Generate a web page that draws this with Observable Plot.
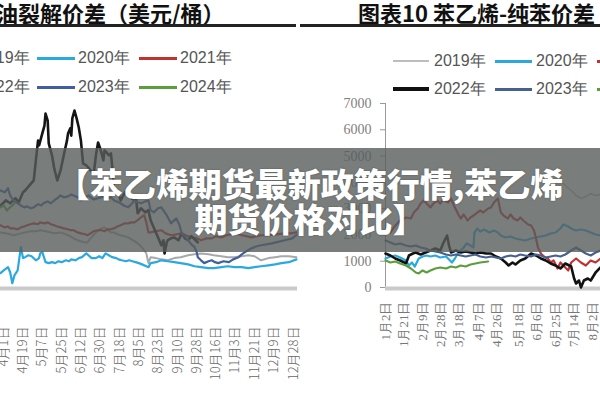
<!DOCTYPE html>
<html><head><meta charset="utf-8">
<script src="https://cdn.jsdelivr.net/npm/d3@7"></script>
<script src="https://cdn.jsdelivr.net/npm/@observablehq/plot@0.6"></script>
<style>
html,body{margin:0;padding:0;background:#fff;}
#root{position:relative;width:600px;height:400px;overflow:hidden;background:#fff;font-family:"Liberation Sans",Arial,sans-serif;}
.title{position:absolute;top:0px;font-family:"Noto Sans CJK SC";font-weight:700;font-size:22px;color:#111;white-space:nowrap;line-height:25px;}
.rule{position:absolute;top:24px;height:3px;background:#222;}
.lg{position:absolute;font-size:16px;color:#555;white-space:nowrap;line-height:18px;}
.sw{position:absolute;height:3px;}
.chart{position:absolute;top:0;}
#banner{position:absolute;left:0;top:148px;width:600px;height:104px;background:rgba(88,94,92,0.8);}
.bt{position:absolute;left:0;width:620px;text-align:center;color:#fff;font-family:"Noto Sans CJK SC";font-weight:900;font-size:33px;line-height:36px;white-space:nowrap;text-shadow:0 0 2px rgba(0,0,0,0.35);}
</style></head>
<body>
<div id="root">
  <div id="leftChart" class="chart" style="left:0"></div>
  <div id="rightChart" class="chart" style="left:300px"></div>

  <div class="title" style="left:-4px">油裂解价差（美元/桶）</div>
  <div class="title" style="left:358px">图表10&nbsp;苯乙烯-纯苯价差</div>
  <div class="rule" style="left:0;width:296px"></div>
  <div class="rule" style="left:300px;width:300px"></div>

  <div id="legends"></div>

  <div id="banner"></div>
  <div class="bt" style="top:165px">【苯乙烯期货最新政策行情,苯乙烯</div>
  <div class="bt" style="top:200px">期货价格对比】</div>
</div>
<script>
// ---------- Left chart: crack spread (USD/bbl); x = day of year ----------
const leftTickDays = [91,109,127,145,163,181,199,217,235,253,271,289,307,325,343,362];
const leftTickLabels = ["4月1日","4月19日","5月7日","5月25日","6月12日","6月30日","7月18日","8月5日","8月23日","9月10日","9月28日","10月16日","11月3日","11月21日","12月9日","12月28日"];
const leftYears = ["2019年","2020年","2021年","2022年","2023年","2024年"];
const leftColors = ["#a8a8a8","#2aa8e0","#c0312f","#151515","#3f5fa0","#5c9e3c"];

const left2019 = [[88,17.9],[93,17.6],[97,17.3],[100,17.0],[104,17.3],[107,17.6],[111,17.9],[116,18.3],[121,18.3],[125,18.6],[130,18.3],[135,17.9],[139,17.6],[144,17.9],[149,17.3],[151,17.0],[153,16.7],[156,16.0],[160,15.4],[163,15.1],[167,14.7],[169,14.7],[172,16.0],[177,17.9],[182,19.2],[185,19.5],[188,18.6],[191,17.9],[194,17.9],[197,17.3],[200,17.0],[204,16.7],[207,16.3],[210,15.7],[213,15.1],[216,14.4],[219,13.5],[222,12.2],[224,11.2],[226,8.1],[228,10.0],[233,9.7],[238,9.3],[244,9.0],[250,9.7],[256,10.0],[263,10.6],[269,10.9],[275,11.2],[282,10.9],[287,10.6],[294,10.3],[300,10.0],[306,10.0],[313,10.3],[319,10.6],[325,10.3],[331,9.0],[338,9.7],[344,10.0],[350,10.3],[357,10.3],[364,10.0]];
const left2020 = [[88,4.9],[91,5.8],[95,6.8],[97,5.2],[99,1.7],[101,4.2],[104,5.8],[107,13.2],[109,9.7],[111,10.0],[114,10.6],[117,10.3],[121,9.0],[124,9.7],[125,11.2],[127,11.6],[130,8.4],[133,8.1],[136,8.4],[139,8.1],[142,8.7],[145,8.4],[149,9.0],[152,8.7],[154,9.3],[158,9.0],[161,9.7],[164,10.0],[168,11.2],[170,10.6],[173,9.7],[177,9.7],[180,10.3],[183,9.7],[186,11.2],[189,10.6],[192,10.0],[196,9.7],[198,9.3],[201,9.0],[205,8.7],[208,9.0],[211,8.7],[214,8.4],[217,8.1],[220,7.7],[224,7.1],[226,6.8],[228,8.1],[233,8.4],[238,9.0],[244,8.7],[250,8.4],[256,8.1],[263,7.7],[269,7.1],[275,6.8],[282,6.5],[287,6.5],[294,6.8],[300,7.1],[306,6.8],[313,6.8],[319,6.5],[325,6.8],[331,7.1],[338,7.4],[344,7.7],[350,8.1],[357,8.4],[364,9.3]];
const left2021 = [[88,20.2],[92,19.5],[95,19.8],[97,19.2],[100,19.2],[104,18.9],[107,19.5],[110,19.8],[113,20.2],[116,20.5],[119,20.8],[123,20.5],[125,21.1],[129,20.8],[132,21.1],[135,20.5],[138,20.2],[141,19.8],[144,19.5],[147,19.2],[151,18.9],[153,18.6],[156,18.6],[160,17.9],[163,17.6],[167,17.3],[169,17.0],[172,17.6],[175,18.3],[179,18.6],[182,18.6],[185,18.3],[188,18.9],[191,18.9],[194,19.2],[197,19.8],[200,20.2],[204,20.8],[207,20.8],[210,21.1],[213,21.1],[216,21.8],[219,22.7],[222,23.4],[224,21.1],[226,17.9],[228,17.9],[233,18.3],[238,18.6],[242,17.6],[247,17.0],[252,17.3],[257,17.6],[261,17.0],[266,16.3],[271,16.0],[275,15.4],[280,16.0],[285,16.0],[289,16.7],[294,16.3],[299,17.0],[303,17.3],[308,17.6],[313,17.0],[317,16.7],[322,16.3],[327,16.7],[331,17.0],[338,17.0],[345,17.3],[353,17.6],[359,17.6],[364,17.9]];
const left2022 = [[88,26.5],[93,28.1],[97,27.2],[102,28.8],[105,27.5],[109,30.7],[111,31.3],[115,32.9],[119,34.5],[121,40.9],[123,47.2],[124,45.7],[127,49.5],[129,52.0],[130,55.8],[132,53.6],[133,46.3],[136,42.5],[138,38.6],[139,37.1],[141,34.5],[144,37.7],[146,40.9],[148,44.1],[150,47.2],[151,49.5],[153,51.1],[154,48.8],[155,54.3],[157,56.8],[159,54.3],[161,51.4],[163,47.2],[165,39.9],[168,39.3],[170,38.6],[172,37.7],[175,36.7],[177,42.5],[179,46.6],[181,44.7],[184,40.9],[185,44.1],[187,43.4],[189,42.5],[191,43.1],[193,36.1],[194,30.4],[197,31.3],[200,28.1],[204,30.7],[207,30.4],[210,28.8],[213,28.1],[214,29.7],[216,24.0],[219,25.6],[223,24.3],[226,25.0],[228,21.8],[232,18.6],[235,16.3],[238,13.8],[240,15.4],[241,11.2],[243,14.7],[244,15.4],[247,16.0],[250,16.3],[254,15.4],[257,17.6],[260,16.0],[263,15.4],[266,16.7],[270,15.4],[272,14.7]];
const left2023 = [[88,31.3],[92,30.7],[95,32.0],[97,29.7],[100,28.1],[104,27.2],[107,26.5],[110,25.9],[113,26.2],[116,25.6],[119,25.9],[123,26.9],[126,26.5],[128,27.2],[132,27.8],[135,27.2],[138,28.1],[141,28.8],[144,29.7],[147,29.1],[151,29.4],[154,30.0],[156,29.7],[160,29.1],[163,28.1],[166,28.8],[170,29.7],[172,29.1],[175,28.4],[179,28.8],[182,29.1],[184,29.4],[188,28.8],[191,29.1],[194,28.1],[198,27.5],[200,27.2],[203,26.5],[207,25.9],[210,26.9],[213,28.1],[216,27.5],[219,27.2],[223,27.8],[226,28.1],[228,25.0],[231,24.3],[235,25.6],[238,25.9],[243,23.4],[247,20.8],[252,22.4],[255,20.2],[257,17.6],[260,16.7],[263,15.4],[266,14.1],[269,13.2],[271,11.6],[272,10.0],[275,9.0],[278,8.1],[282,8.7],[285,9.0],[288,8.4],[291,8.1],[296,8.7],[301,8.4],[305,9.3],[310,10.0],[313,10.9],[316,11.6],[319,12.2],[322,12.8],[327,13.5],[331,13.8],[336,14.1],[341,14.4],[346,14.8],[353,15.4],[360,16.0],[364,17.0]];
const left2024 = [[88,25.9],[91,26.5],[94,24.9],[96,25.6],[99,26.5],[101,27.2]];

// ---------- Right chart: styrene - benzene spread (RMB/t); x = day of year ----------
const rightTickDays = [2,21,40,59,77,97,116,138,157,176,195,214];
const rightTickLabels = ["1月2日","1月21日","2月9日","2月28日","3月18日","4月7日","4月26日","5月18日","6月6日","6月25日","7月14日","8月2日"];
const rightYTicks = [0,1000,2000,3000,4000,5000,6000,7000];
const rightYears = ["2019年","2020年","2021年","2022年","2023年","2024年"];
const rightColors = ["#bdbdbd","#2aa8e0","#c0312f","#111111","#46618f","#5c9e3c"];

const right2019 = [[161,3690],[166,3766],[171,3880],[176,3956],[181,4070],[186,3880],[192,3690],[197,3500],[202,3386],[207,3462],[212,3576],[217,3500],[222,3538]];
const right2020 = [[2,1103],[7,1179],[12,1217],[17,1141],[23,1027],[26,837],[29,951],[32,799],[36,1103],[40,1179],[44,1217],[48,1179],[53,1217],[58,1141],[64,1179],[67,1065],[70,951],[73,1103],[76,1293],[79,1407],[82,1522],[85,1674],[89,1598],[92,1522],[93,2092],[96,2244],[99,2130],[103,2206],[108,2092],[113,2168],[117,2092],[120,1978],[125,1902],[130,1940],[135,1864],[140,1826],[145,1788],[151,1864],[156,1902],[161,1940],[166,1978],[171,2054],[176,2092],[181,2244],[184,2397],[189,2320],[192,2244],[197,2168],[202,2206],[207,2168],[212,2092],[217,2016],[222,1978]];
const right2021 = [[4,2168],[7,2092],[12,2358],[17,2549],[23,2663],[28,2625],[31,2853],[35,3005],[38,3195],[41,3309],[45,3157],[48,3043],[51,3195],[55,3309],[58,3195],[61,3348],[66,3233],[69,3386],[72,3119],[76,2815],[79,2625],[82,2777],[86,2549],[89,2663],[92,2739],[96,2853],[99,2929],[102,2853],[107,3005],[110,3043],[113,3233],[117,3386],[120,2853],[123,2739],[127,2625],[130,2777],[133,2625],[137,2549],[140,2663],[143,2549],[148,2397],[151,2358],[154,2168],[156,1864],[158,1522],[161,1293],[164,1179],[168,1103],[171,951],[174,1027],[178,723],[181,951],[184,837],[189,647],[192,951],[197,1103],[202,951],[207,837],[212,1027],[217,951],[222,1103]];
const right2022 = [[2,1293],[7,1217],[12,1103],[17,1027],[23,913],[26,1217],[30,1293],[33,1331],[38,1255],[43,1331],[48,1407],[53,1484],[58,1407],[61,1674],[65,1978],[67,1598],[69,1331],[74,1407],[79,1331],[84,1369],[89,1331],[94,1293],[99,1331],[105,1293],[110,1293],[115,1179],[120,1103],[125,951],[128,837],[132,951],[135,875],[140,1027],[145,1103],[151,1293],[156,1217],[161,1103],[166,1027],[171,913],[176,837],[181,723],[186,913],[192,799],[195,342],[197,152],[200,266],[202,0],[205,266],[209,342],[212,266],[217,571],[222,761]];
const right2023 = [[2,1788],[7,1712],[12,1636],[17,1674],[23,1598],[28,1560],[33,1598],[38,1522],[43,1484],[48,1407],[53,1369],[58,1331],[64,1255],[69,1217],[74,1255],[79,1217],[84,1179],[89,1217],[94,1255],[99,1179],[105,1141],[110,1179],[115,1141],[120,1103],[125,1179],[130,1217],[135,1179],[140,1255],[145,1217],[151,1179],[156,1255],[161,1217],[166,1141],[171,1179],[176,1217],[181,1179],[186,1255],[192,1407],[197,1522],[202,1407],[207,1293],[212,1217],[217,1331],[222,1407]];
const right2024 = [[2,1027],[7,951],[12,989],[17,913],[23,837],[28,723],[33,571],[36,533],[40,647],[44,571],[48,647],[53,723],[58,761],[64,723],[69,799],[74,761],[79,837],[84,799],[89,875],[94,913],[99,951],[107,989]];

// ---------- build charts ----------
const leftSeries = [left2019,left2020,left2021,left2022,left2023,left2024];
const rightSeries = [right2019,right2020,right2021,right2022,right2023,right2024];
const leftWidths = [2,2.2,2.2,2.6,2.2,2.2];
const rightWidths = [1.6,2.2,2.2,2.6,2.2,2.2];

const leftLabelMap = new Map(leftTickDays.map((d,i)=>[d,leftTickLabels[i]]));
const rightLabelMap = new Map(rightTickDays.map((d,i)=>[d,rightTickLabels[i]]));

const leftPlot = Plot.plot({
  width: 300, height: 400,
  marginTop: 100, marginBottom: 112, marginLeft: 0, marginRight: 3,
  x: {domain: [88, 365]},
  y: {domain: [0, 60], axis: null},
  style: {background: "transparent", fontFamily: "'Noto Sans CJK SC', sans-serif", fontSize: "13px", color: "#666", overflow: "visible"},
  marks: [
    Plot.ruleY([0], {stroke: "#cacaca", strokeWidth: 4}),
    ...leftSeries.map((s,i)=>Plot.line(s, {x: d=>d[0], y: d=>d[1], stroke: leftColors[i], strokeWidth: leftWidths[i], strokeLinejoin: "round"})),
    Plot.axisX(leftTickDays, {tickFormat: d=>leftLabelMap.get(d), tickRotate: -90, tickSize: 0, tickPadding: 38, fill: "#666", fontWeight: 300})
  ]
});
document.getElementById("leftChart").appendChild(leftPlot);

const rightPlot = Plot.plot({
  width: 300, height: 400,
  marginTop: 103, marginBottom: 113, marginLeft: 85, marginRight: 0,
  x: {domain: [2, 222]},
  y: {domain: [0, 7000]},
  style: {background: "transparent", fontFamily: "'Liberation Serif', 'DejaVu Serif', serif", fontSize: "14px", color: "#777", overflow: "visible"},
  marks: [
    Plot.ruleX([2], {stroke: "#9a9a9a", strokeWidth: 1}),
    Plot.axisY(rightYTicks, {tickSize: 5, tickPadding: 9, stroke: "#9a9a9a", fill: "#808080", label: null, tickFormat: d => String(d)}),
    Plot.ruleY([0], {stroke: "#cacaca", strokeWidth: 4, dy: 1}),
    ...rightSeries.map((s,i)=>Plot.line(s, {x: d=>d[0], y: d=>d[1], stroke: rightColors[i], strokeWidth: rightWidths[i], strokeLinejoin: "round"})),
    Plot.axisX(rightTickDays, {tickFormat: d=>rightLabelMap.get(d), tickRotate: -90, tickSize: 0, tickPadding: 14, fill: "#777", fontSize: 13})
  ]
});
document.getElementById("rightChart").appendChild(rightPlot);

// ---------- legends ----------
const legendItems = [
  {chart:"L", i:0, sx:-75, ex:-35, tx:-22, y:58},
  {chart:"L", i:1, sx:37, ex:75, tx:78, y:58},
  {chart:"L", i:2, sx:139, ex:177, tx:180, y:58},
  {chart:"L", i:3, sx:-75, ex:-35, tx:-22, y:87},
  {chart:"L", i:4, sx:37, ex:75, tx:78, y:87},
  {chart:"L", i:5, sx:139, ex:177, tx:180, y:87},
  {chart:"R", i:0, sx:393, ex:429, tx:434, y:61},
  {chart:"R", i:1, sx:495, ex:532, tx:536, y:61},
  {chart:"R", i:2, sx:597, ex:640, tx:645, y:61},
  {chart:"R", i:3, sx:393, ex:429, tx:434, y:89},
  {chart:"R", i:4, sx:495, ex:532, tx:536, y:89},
  {chart:"R", i:5, sx:597, ex:640, tx:645, y:89}
];
const lg = document.getElementById("legends");
for (const it of legendItems) {
  const colors = it.chart === "L" ? leftColors : rightColors;
  const years = it.chart === "L" ? leftYears : rightYears;
  const sw = document.createElement("div");
  sw.className = "sw";
  const h = (it.chart === "R" && it.i === 0) ? 2 : (it.i === 3 ? 4 : 3);
  sw.style.cssText = `left:${it.sx}px;width:${it.ex-it.sx}px;top:${it.y-h/2}px;height:${h}px;background:${colors[it.i]};`;
  lg.appendChild(sw);
  const t = document.createElement("div");
  t.className = "lg";
  t.style.left = it.tx + "px";
  t.style.top = (it.y - 9) + "px";
  t.textContent = years[it.i];
  lg.appendChild(t);
}
</script>
</body></html>
